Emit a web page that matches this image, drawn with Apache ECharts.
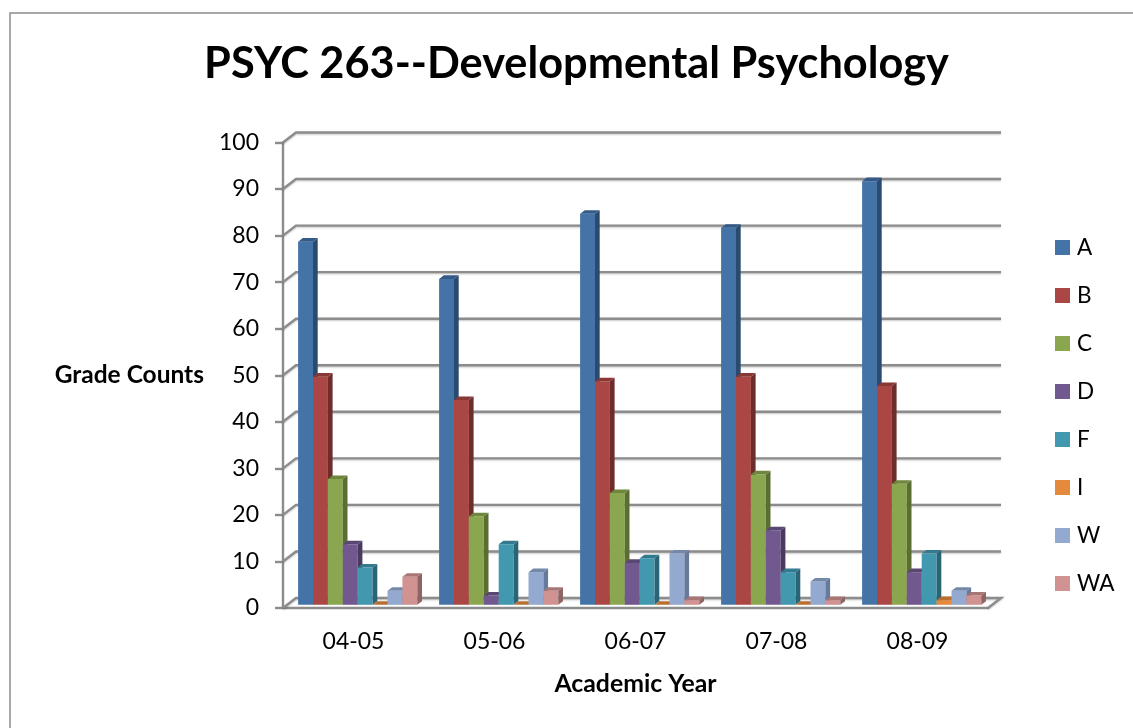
<!DOCTYPE html>
<html>
<head>
<meta charset="utf-8">
<title>PSYC 263</title>
<script src="https://cdn.jsdelivr.net/npm/echarts@6/dist/echarts.min.js"></script>
<style>
  html, body { margin: 0; padding: 0; background: #fff; }
  #chart { width: 1133px; height: 728px; }
</style>
</head>
<body>
<div id="chart"></div>
<script>
const years = ["04-05", "05-06", "06-07", "07-08", "08-09"]
const yTicks = [0, 10, 20, 30, 40, 50, 60, 70, 80, 90, 100]

const gradeA = [78, 70, 84, 81, 91]
const gradeB = [49, 44, 48, 49, 47]
const gradeC = [27, 19, 24, 28, 26]
const gradeD = [13, 2, 9, 16, 7]
const gradeF = [8, 13, 10, 7, 11]
const gradeI = [0, 0, 0, 0, 1]
const gradeW = [3, 7, 11, 5, 3]
const gradeWA = [6, 3, 1, 1, 2]

// name, values, front / top / side colours
const grades = [
  ["A", gradeA, "#4473A7", "#345A88", "#2A4A70"],
  ["B", gradeB, "#AA4643", "#8A3835", "#6E2C2A"],
  ["C", gradeC, "#8AA64E", "#6F863E", "#5A6E32"],
  ["D", gradeD, "#71588F", "#5A4672", "#4A3A60"],
  ["F", gradeF, "#4198AF", "#337A8E", "#2A6575"],
  ["I", gradeI, "#E58A3C", "#B96F30", "#A86328"],
  ["W", gradeW, "#93A9CF", "#7488AA", "#667A9B"],
  ["WA", gradeWA, "#D19392", "#A87675", "#8C6564"]
]

const FONT = "Lato"
const GRID_COLOR = "#8C8C8C"

// 后墙偏移
const WALL_DX = 13
const WALL_DY = 10
// 柱子厚度
const BAR_W = 14.9
const BAR_DX = 4.7
const BAR_DY = 3.6
const BAR_SHIFT_Y = 3.2

// 墙面网格线
const renderWall = (params, api) => {
  let val = api.value(0)
  let left = api.coord([0, val])
  let x0 = params.coordSys.x
  let x1 = x0 + params.coordSys.width
  let y = left[1]
  let points = [
    [x0, y],
    [x0 + WALL_DX, y - WALL_DY],
    [x1 + WALL_DX, y - WALL_DY]
  ]
  if (val === 0) points.push([x1, y])
  return {
    type: "polyline",
    silent: true,
    shape: { points: points },
    style: {
      fill: null,
      stroke: GRID_COLOR,
      lineWidth: 2.4,
      shadowColor: "rgba(0,0,0,0.22)",
      shadowBlur: 2,
      shadowOffsetY: 1
    }
  }
}

// 三维柱子
const makeBarRender = (index) => (params, api) => {
  let top = api.coord([api.value(0), api.value(1)])
  let base = api.coord([api.value(0), 0])
  let x = top[0] - (BAR_W * 8) / 2 + BAR_W * index + 4.2
  let y = top[1] - BAR_SHIFT_Y
  let yBase = base[1] - BAR_SHIFT_Y
  let g = grades[index]
  let children = []
  if (yBase - y > 0.1) {
    children.push({
      type: "rect",
      shape: { x: x, y: y, width: BAR_W, height: yBase - y },
      style: { fill: g[2] }
    })
    children.push({
      type: "polygon",
      shape: {
        points: [
          [x + BAR_W, y],
          [x + BAR_W + BAR_DX, y - BAR_DY],
          [x + BAR_W + BAR_DX, yBase - BAR_DY],
          [x + BAR_W, yBase]
        ]
      },
      style: { fill: g[4] }
    })
  }
  children.push({
    type: "polygon",
    shape: {
      points: [
        [x, y],
        [x + BAR_DX, y - BAR_DY],
        [x + BAR_W + BAR_DX, y - BAR_DY],
        [x + BAR_W, y]
      ]
    },
    style: { fill: g[3] }
  })
  return { type: "group", children: children }
}

const seriesData = [
  {
    type: "custom",
    name: "wall",
    silent: true,
    renderItem: renderWall,
    encode: { y: 0 },
    data: yTicks.map((t) => [t]),
    z: 1
  }
]
grades.forEach((g, index) => {
  seriesData.push({
    type: "custom",
    name: g[0],
    renderItem: makeBarRender(index),
    encode: { x: 0, y: 1 },
    itemStyle: { color: g[2] },
    data: g[1].map((v, i) => [i, v]),
    z: 3 + index
  })
})

const chart = echarts.init(document.getElementById("chart"))
chart.setOption({
  animation: false,
  backgroundColor: "#ffffff",
  textStyle: { fontFamily: FONT, color: "#000" },
  title: {
    text: "PSYC 263--Developmental Psychology",
    left: 571.5,
    top: 38,
    textAlign: "center",
    textStyle: { fontFamily: FONT, fontWeight: "bold", fontSize: 43.3, color: "#000" }
  },
  legend: {
    data: grades.map((g) => g[0]),
    orient: "vertical",
    left: 1055,
    top: 236,
    padding: 0,
    icon: "rect",
    itemWidth: 15,
    itemHeight: 15,
    itemGap: 25,
    selectedMode: false,
    textStyle: { fontFamily: FONT, fontSize: 22.5, color: "#000", padding: [0, 0, 0, 2] }
  },
  grid: { left: 283, top: 142.5, width: 705, height: 465.5 },
  xAxis: {
    type: "category",
    data: years,
    name: "Academic Year",
    nameLocation: "middle",
    nameGap: 64,
    nameTextStyle: { fontFamily: FONT, fontWeight: "bold", fontSize: 24.8, color: "#000" },
    axisLine: { lineStyle: { color: GRID_COLOR, width: 2.4 } },
    axisTick: { show: false },
    axisLabel: { fontFamily: FONT, fontSize: 23, color: "#000", margin: 22 }
  },
  yAxis: {
    type: "value",
    min: 0,
    max: 100,
    interval: 10,
    name: "Grade Counts",
    nameLocation: "middle",
    nameRotate: 0,
    nameGap: 79,
    nameTextStyle: { fontFamily: FONT, fontWeight: "bold", fontSize: 24.5, color: "#000", padding: [8, 0, 0, 0] },
    splitLine: { show: false },
    axisLine: { show: true, lineStyle: { color: GRID_COLOR, width: 2.4 } },
    axisTick: { show: true, length: 8, lineStyle: { color: GRID_COLOR, width: 2.4 } },
    axisLabel: { fontFamily: FONT, fontSize: 23, color: "#000", margin: 24, padding: [5, 0, 0, 0] }
  },
  graphic: [
    {
      type: "polyline",
      silent: true,
      shape: { points: [[10, 728], [10, 13], [1133, 13]] },
      style: { fill: null, stroke: "#8C8C8C", lineWidth: 1.5 }
    }
  ],
  series: seriesData
})
</script>
</body>
</html>
